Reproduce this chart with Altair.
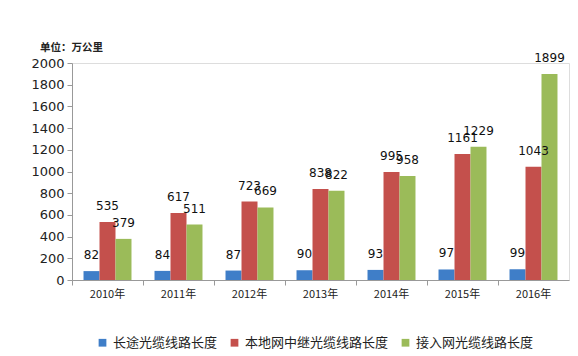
import altair as alt
import pandas as pd

years = ["2010年", "2011年", "2012年", "2013年", "2014年", "2015年", "2016年"]
series = ["长途光缆线路长度", "本地网中继光缆线路长度", "接入网光缆线路长度"]
long_haul = [82, 84, 87, 90, 93, 97, 99]
local_relay = [535, 617, 723, 838, 995, 1161, 1043]
access = [379, 511, 669, 822, 958, 1229, 1899]
colors = ["#3F7EC8", "#C4504C", "#9BBB59"]

rows = []
for i, y in enumerate(years):
    for s, vals in zip(series, [long_haul, local_relay, access]):
        rows.append({"year": y, "series": s, "value": vals[i]})
df = pd.DataFrame(rows)

x = alt.X("year:N", sort=years, title=None,
          scale=alt.Scale(paddingInner=0, paddingOuter=0),
          axis=alt.Axis(labelAngle=0, labelFont="Noto Sans CJK SC", labelFontSize=11,
                        labelColor="#222", domainColor="#999", tickColor="#999",
                        tickSize=5, labelPadding=3, bandPosition=0, grid=False))
xo = alt.XOffset("series:N", sort=series,
                 scale=alt.Scale(paddingInner=0, paddingOuter=0.72))
y = alt.Y("value:Q", title=None,
          scale=alt.Scale(domain=[0, 2000]),
          axis=alt.Axis(values=list(range(0, 2001, 200)), format="d", labelOverlap=False,
                        labelFont="DejaVu Sans",
                        labelFontSize=13, labelColor="#222", domainColor="#999",
                        tickColor="#999", tickSize=5, labelPadding=3, grid=False))

bars = alt.Chart(df).mark_bar().encode(
    x=x, xOffset=xo, y=y,
    color=alt.Color("series:N", sort=series,
                    scale=alt.Scale(domain=series, range=colors),
                    legend=alt.Legend(title=None, orient="none", direction="horizontal",
                                      legendX=24, legendY=273, symbolType="square",
                                      symbolSize=60, symbolStrokeWidth=0,
                                      labelFont="Noto Sans CJK SC", labelFontSize=13,
                                      labelColor="#222", columnPadding=10,
                                      labelLimit=300, symbolOffset=0)),
)

labels = alt.Chart(df).mark_text(baseline="bottom", dy=-9, font="DejaVu Sans",
                                 fontSize=12, color="#111").encode(
    x=x, xOffset=xo, y=y, text="value:Q")

chart = alt.layer(bars, labels).properties(
    width=497, height=217,
    title=alt.TitleParams("单位：万公里", anchor="start", frame="group", dx=-32, offset=-2,
                          font="Noto Sans CJK SC", fontSize=10.5, fontWeight="bold",
                          color="#222"),
    autosize=alt.AutoSizeParams(type="none"),
    padding={"left": 72, "top": 63, "right": 9, "bottom": 76},
).configure_view(stroke=None).configure(background="white")

chart.save("out.html", embed_options={"renderer": "svg", "actions": False})
